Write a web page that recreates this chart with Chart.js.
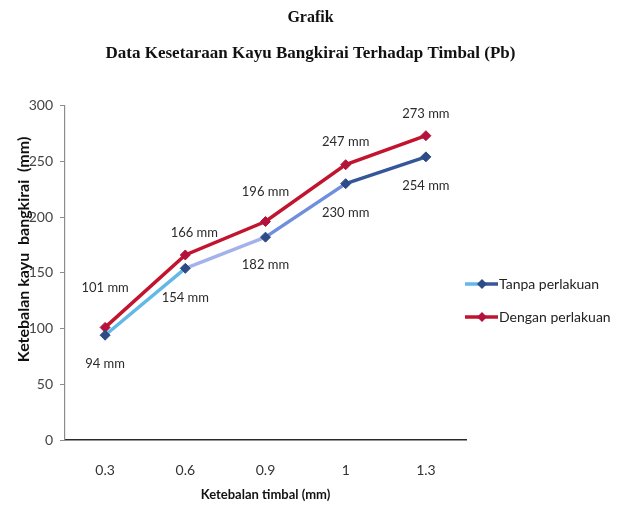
<!DOCTYPE html>
<html>
<head>
<meta charset="utf-8">
<script src="https://cdn.jsdelivr.net/npm/chart.js@4/dist/chart.umd.min.js"></script>
<style>
  html, body { margin: 0; padding: 0; background: #ffffff; }
  #wrap { width: 621px; height: 507px; }
</style>
</head>
<body>
<div id="wrap"><canvas id="chart" width="621" height="507"></canvas></div>
<script>
// Ketebalan timbal (mm)
const categories = ['0.3', '0.6', '0.9', '1', '1.3'];
// Ketebalan kayu bangkirai (mm)
const tanpaPerlakuan = [94, 154, 182, 230, 254];
const denganPerlakuan = [101, 166, 196, 247, 273];
const yTicks = [0, 50, 100, 150, 200, 250, 300];

const labelFont = '13px Lato';
const tanpaSegColors = ['#62b9e8', '#a4b2ec', '#6f8fdc', '#34579a'];
const tanpaMarker = '#2d4c86';
const denganLine = '#c2142e';
const denganMarker = '#b3123c';

// value label placement (dx, dy from the point)
const labelShift = {
  0: { dx: [0, 0, 0, 0, 0], dy: [29, 29, 28, 29, 29] },
  1: { dx: [0, 9, 0, 0, 0], dy: [-40, -22, -30, -23, -22] }
};

const valueLabels = {
  id: 'valueLabels',
  afterDatasetsDraw(chart) {
    const ctx = chart.ctx;
    ctx.save();
    ctx.font = labelFont;
    ctx.fillStyle = '#2b2b2b';
    ctx.textAlign = 'center';
    ctx.textBaseline = 'middle';
    chart.data.datasets.forEach((ds, i) => {
      const meta = chart.getDatasetMeta(i);
      meta.data.forEach((pt, j) => {
        const s = labelShift[i];
        ctx.fillText(ds.data[j] + ' mm', pt.x + s.dx[j], pt.y + s.dy[j]);
      });
    });
    ctx.restore();
  }
};

function diamond(ctx, x, y, r, color) {
  ctx.fillStyle = color;
  ctx.beginPath();
  ctx.moveTo(x, y - r);
  ctx.lineTo(x + r, y);
  ctx.lineTo(x, y + r);
  ctx.lineTo(x - r, y);
  ctx.closePath();
  ctx.fill();
}

// Legend placed in its own layout box on the right side of the plot
const sideLegend = {
  id: 'sideLegend',
  start(chart) {
    const box = {
      position: 'right',
      weight: 2000,
      fullSize: false,
      options: {},
      isHorizontal() { return false; },
      getPadding() { return { top: 0, left: 0, right: 0, bottom: 0 }; },
      update(maxWidth, maxHeight) { this.width = 155; this.height = maxHeight; },
      draw() {
        const ctx = chart.ctx;
        const x0 = this.left - 1, x1 = x0 + 33, xm = x0 + 17;
        const rows = [
          { y: 284, text: chart.data.datasets[0].label, left: tanpaSegColors[0], right: tanpaSegColors[3], mark: tanpaMarker },
          { y: 317, text: chart.data.datasets[1].label, left: denganLine, right: denganLine, mark: denganMarker }
        ];
        ctx.save();
        rows.forEach(r => {
          ctx.lineWidth = 3.5;
          ctx.lineCap = 'butt';
          ctx.strokeStyle = r.left;
          ctx.beginPath(); ctx.moveTo(x0, r.y); ctx.lineTo(xm, r.y); ctx.stroke();
          ctx.strokeStyle = r.right;
          ctx.beginPath(); ctx.moveTo(xm, r.y); ctx.lineTo(x1, r.y); ctx.stroke();
          diamond(ctx, xm, r.y, 5, r.mark);
          ctx.font = '14px Lato';
          ctx.fillStyle = '#222222';
          ctx.textAlign = 'left';
          ctx.textBaseline = 'middle';
          ctx.fillText(r.text, x1 + 1, r.y);
        });
        ctx.restore();
      }
    };
    Chart.layouts.addBox(chart, box);
  }
};

new Chart(document.getElementById('chart'), {
  type: 'line',
  data: {
    labels: categories,
    datasets: [
      {
        label: 'Tanpa perlakuan',
        data: tanpaPerlakuan,
        borderWidth: 3.5,
        borderColor: tanpaSegColors[0],
        segment: { borderColor: c => tanpaSegColors[c.p0DataIndex] },
        pointStyle: 'rectRot',
        pointRadius: 5,
        pointBackgroundColor: tanpaMarker,
        pointBorderColor: tanpaMarker,
        pointBorderWidth: 1,
        tension: 0
      },
      {
        label: 'Dengan perlakuan',
        data: denganPerlakuan,
        borderWidth: 3.5,
        borderColor: denganLine,
        pointStyle: 'rectRot',
        pointRadius: 5,
        pointBackgroundColor: denganMarker,
        pointBorderColor: denganMarker,
        pointBorderWidth: 1,
        tension: 0
      }
    ]
  },
  options: {
    responsive: false,
    animation: false,
    layout: { padding: 0 },
    plugins: {
      legend: { display: false },
      tooltip: { enabled: false },
      title: {
        display: true,
        text: 'Grafik',
        color: '#111111',
        font: { family: 'Liberation Serif', size: 16, weight: 'bold' },
        padding: { top: 8, bottom: 16 }
      },
      subtitle: {
        display: true,
        text: 'Data Kesetaraan Kayu Bangkirai Terhadap Timbal (Pb)',
        color: '#111111',
        font: { family: 'Liberation Serif', size: 17, weight: 'bold' },
        padding: { top: 0, bottom: 42 }
      }
    },
    scales: {
      x: {
        offset: true,
        afterFit: s => { s.height = 67; },
        grid: { display: false, drawTicks: false },
        border: { display: true, color: '#2a2a2a', width: 1.5 },
        ticks: { color: '#333333', font: { family: 'Lato', size: 14 }, padding: 22 },
        title: {
          display: true,
          text: 'Ketebalan timbal (mm)',
          color: '#111111',
          font: { family: 'Lato', size: 13, weight: 'bold' },
          padding: { top: 9, bottom: 4 }
        }
      },
      y: {
        min: 0,
        max: 300,
        afterFit: s => { s.width = 65; },
        afterBuildTicks: axis => { axis.ticks = yTicks.map(v => ({ value: v })); },
        grid: { display: true, drawOnChartArea: false, drawTicks: true, tickLength: 5, color: '#8c8c8c' },
        border: { display: true, color: '#8c8c8c', width: 1.2 },
        ticks: { color: '#444444', font: { family: 'Lato', size: 14 }, padding: 7 },
        title: {
          display: true,
          text: '            Ketebalan kayu  bangkirai  (mm)',
          color: '#111111',
          font: { family: 'Lato', size: 16, weight: 'bold' },
          padding: { top: 14, bottom: 2 }
        }
      }
    }
  },
  plugins: [valueLabels, sideLegend]
});
</script>
</body>
</html>
